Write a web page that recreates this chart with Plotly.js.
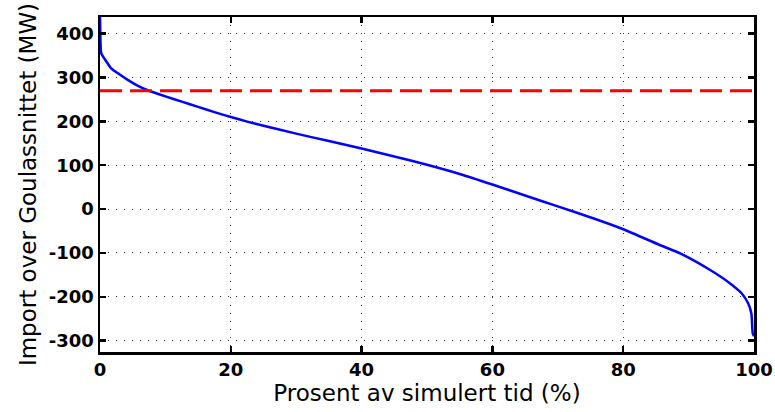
<!DOCTYPE html>
<html>
<head>
<meta charset="utf-8">
<script src="https://cdn.plot.ly/plotly-3.0.1.min.js"></script>
<style>
  html, body { margin: 0; padding: 0; background: #fff; }
  #chart { width: 775px; height: 412px; }
</style>
</head>
<body>
<div id="chart"></div>
<script>
// Duration curve: share of simulated time (%) vs import over the section (MW)
const pctTime = [0, 0.05, 0.2, 1.0, 1.7, 2.8, 4.3, 5.8, 7.3, 10, 12.5, 15, 17.5, 20, 22.5, 25, 30, 35, 40, 45, 50, 55, 60, 65, 70, 75.4, 80, 85.6, 88.7, 93.3, 96.3, 98.1, 99.1, 99.6, 99.8, 100];
const importMW = [440, 400, 355, 336, 321, 309, 294, 281, 271, 257, 245, 233, 221, 210, 199.5, 190, 172, 155, 138, 120, 101, 80, 56, 31, 6, -21, -46, -82, -101, -139, -169, -192, -215, -238, -283, -290];
// Transfer limit line
const limitX = [0, 100];
const limitMW = [270, 270];

const xTicks = [0, 20, 40, 60, 80, 100];
const yTicks = [-300, -200, -100, 0, 100, 200, 300, 400];

const tickFont = { family: 'DejaVu Sans', size: 18, color: '#000', weight: 'bold' };
const titleFont = { family: 'DejaVu Sans', size: 23, color: '#000' };

const axisCommon = {
  showline: true, linecolor: '#000', linewidth: 2.5, mirror: 'ticks',
  ticks: 'inside', ticklen: 6, tickwidth: 2.5, tickcolor: '#000',
  showgrid: true, gridcolor: '#333', gridwidth: 1, griddash: '1px,7px',
  zeroline: false, tickfont: tickFont
};

const traces = [
  { x: pctTime, y: importMW, type: 'scatter', mode: 'lines',
    line: { color: '#0000ff', width: 2.5, shape: 'spline', smoothing: 0.6 }, hoverinfo: 'skip' },
  { x: limitX, y: limitMW, type: 'scatter', mode: 'lines',
    line: { color: '#ff0000', width: 3, dash: '22px,8px' }, hoverinfo: 'skip' }
];

const layout = {
  width: 775, height: 412,
  margin: { l: 100, r: 21, t: 17, b: 60 },
  paper_bgcolor: '#fff', plot_bgcolor: '#fff',
  showlegend: false,
  xaxis: Object.assign({}, axisCommon, {
    range: [0, 100], tickvals: xTicks, ticktext: xTicks.map(String),
    title: { text: 'Prosent av simulert tid (%)', font: titleFont, standoff: 2 }
  }),
  yaxis: Object.assign({}, axisCommon, {
    range: [-326, 438], tickvals: yTicks, ticktext: yTicks.map(String),
    title: { text: 'Import over Goulassnittet (MW)', font: titleFont, standoff: 6 }
  })
};

Plotly.newPlot('chart', traces, layout, { staticPlot: true, displayModeBar: false });
</script>
</body>
</html>
